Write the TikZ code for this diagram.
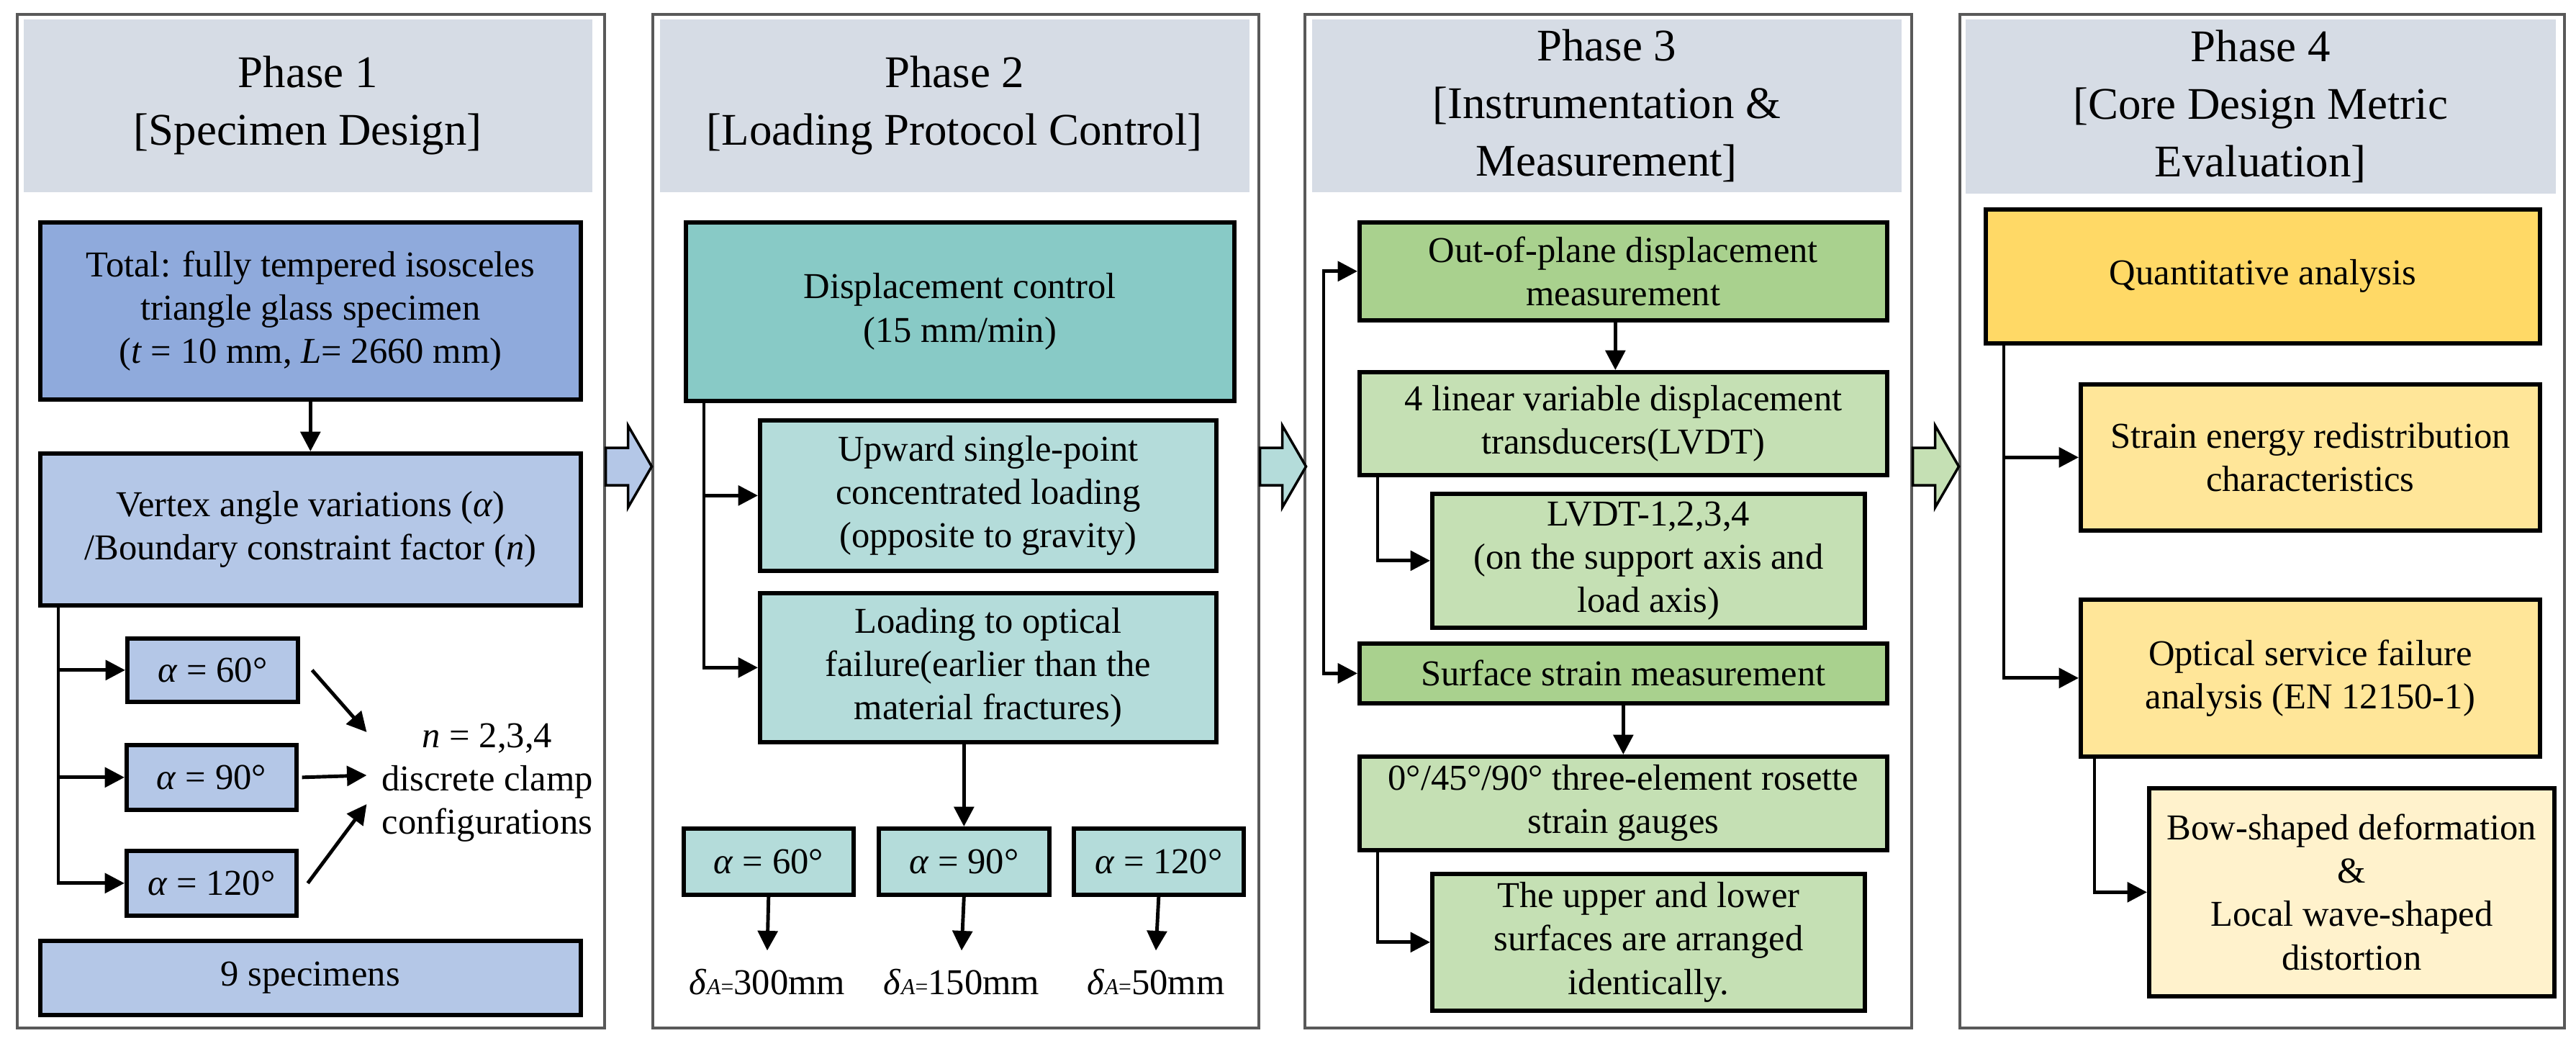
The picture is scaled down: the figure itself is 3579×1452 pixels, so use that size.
\documentclass[tikz,border=0pt]{standalone}
\usepackage{fontspec}
\setmainfont{Liberation Serif}
\usetikzlibrary{positioning,arrows.meta}
\definecolor{hdgray}{HTML}{D6DCE5}
\definecolor{blued}{HTML}{8FAADC}
\definecolor{bluel}{HTML}{B4C7E7}
\definecolor{teald}{HTML}{88CAC6}
\definecolor{teall}{HTML}{B4DCDA}
\definecolor{greend}{HTML}{A9D18E}
\definecolor{greenl}{HTML}{C5E0B4}
\definecolor{yeld}{HTML}{FFD966}
\definecolor{yelm}{HTML}{FFE699}
\definecolor{yell}{HTML}{FFF2CC}
\newcommand\bfnt{\fontsize{14.4}{17.1}\selectfont}
\newcommand\hfnt{\fontsize{17.9}{22.8}\selectfont}
\newcommand\dsub[1]{\textit{δ}{\fontsize{9}{9}\selectfont\textit{A}=}#1mm}
\tikzset{sz/.style 2 args={minimum width=#1, minimum height=#2}}

\begin{document}
\begin{tikzpicture}[
    x=0.1mm, y=-0.1mm,
    PH/.style={draw=black!65, line width=1pt, anchor=north west, inner sep=0pt},
    HD/.style={fill=hdgray, anchor=north west, align=center, font=\hfnt, inner sep=0pt},
    BX/.style={draw=black, line width=1.6pt, anchor=north west, align=center,
      font=\bfnt, inner sep=1pt},
    TX/.style={align=center, font=\bfnt},
    DT/.style={font=\bfnt, inner xsep=0pt, inner ysep=2.5mm},
    tip/.style={Triangle[length=7.8pt,width=7.8pt]},
    arr/.style={-{Triangle[length=7.8pt,width=7.8pt]}, line width=1.4pt},
    BA/.style={draw=black, line width=1pt}
  ]
    \useasboundingbox (0,0) rectangle (3579,1452);

    %% Phase frames
    \node[PH, sz={81.6mm}{140.8mm}] (p1) at (22,18) {};
    \node[PH, sz={84.2mm}{140.8mm}] (p2) at (905,18) {};
    \node[PH, sz={84.3mm}{140.8mm}] (p3) at (1811,18) {};
    \node[PH, sz={84.0mm}{140.8mm}] (p4) at (2721,18) {};

    %% Headers
    \node[HD, sz={79.0mm}{24.0mm}] (h1) at (32,26) {Phase 1\\{[}Specimen Design{]}};
    \node[HD, sz={81.9mm}{24.0mm}] (h2) at (916,26) {Phase 2\\{[}Loading Protocol Control{]}};
    \node[HD, sz={81.9mm}{24.0mm}] (h3) at (1822,26) {Phase 3\\{[}Instrumentation \&\\Measurement{]}};
    \node[HD, sz={82.0mm}{24.2mm}] (h4) at (2730,26) {Phase 4\\{[}Core Design Metric\\Evaluation{]}};

    %% Phase 1 (specimen design)
    \node[BX, fill=blued, sz={75.1mm}{24.6mm}] (tot) at (53,306)
      {Total: fully tempered isosceles\\triangle glass specimen\\(\textit{t} = 10 mm, \textit{L}= 2660 mm)};
    \node[BX, fill=bluel, sz={75.1mm}{21.1mm}] (vtx) at (53,627)
      {Vertex angle variations (\textit{α})\\/Boundary constraint factor (\textit{n})};
    \node[BX, fill=bluel, sz={23.7mm}{8.8mm}] (a60) at (174,884) {\textit{α} = 60°};
    \node[BX, fill=bluel, sz={23.6mm}{9.0mm}] (a90) at (173,1032) {\textit{α} = 90°};
    \node[BX, fill=bluel, sz={23.6mm}{9.0mm}] (a120) at (173,1179) {\textit{α} = 120°};
    \node[TX, inner xsep=2mm] (nc) at (677,1087) {\textit{n} = 2,3,4\\discrete clamp\\configurations};
    \node[BX, fill=bluel, sz={75.1mm}{10.3mm}] (sp9) at (53,1304) {9 specimens};

    \draw[arr] (tot.south) -- (vtx.north);
    \draw[arr] ([xshift=2.8mm]vtx.south west) |- (a60.west);
    \draw[arr] ([xshift=2.8mm]vtx.south west) |- (a90.west);
    \draw[arr] ([xshift=2.8mm]vtx.south west) |- (a120.west);
    \draw[arr] ([xshift=1.7mm]a60.east) -- ([yshift=7mm]nc.west);
    \draw[arr] ([xshift=0.5mm]a90.east) -- ([yshift=1mm]nc.west);
    \draw[arr] ([xshift=1.3mm]a120.east) -- ([yshift=-3mm]nc.west);

    %% Phase 2 (loading protocol)
    \node[BX, fill=teald, sz={76.2mm}{24.8mm}] (disp) at (950,306)
      {Displacement control\\(15 mm/min)};
    \node[BX, fill=teall, sz={63.4mm}{20.9mm}] (up) at (1053,581)
      {Upward single-point\\concentrated loading\\(opposite to gravity)};
    \node[BX, fill=teall, sz={63.4mm}{20.7mm}] (ld) at (1053,821)
      {Loading to optical\\failure(earlier than the\\material fractures)};
    \node[BX, fill=teall, sz={23.6mm}{9.2mm}] (b60) at (947,1148) {\textit{α} = 60°};
    \node[BX, fill=teall, sz={23.7mm}{9.2mm}] (b90) at (1218,1148) {\textit{α} = 90°};
    \node[BX, fill=teall, sz={23.6mm}{9.2mm}] (b120) at (1489,1148) {\textit{α} = 120°};
    \node[DT] (d60) at (1066,1364) {\dsub{300}};
    \node[DT] (d90) at (1336,1364) {\dsub{150}};
    \node[DT] (d120) at (1606,1364) {\dsub{50}};

    \draw[arr] ([xshift=2.8mm]disp.south west) |- (up.west);
    \draw[arr] ([xshift=2.8mm]disp.south west) |- (ld.west);
    \draw[arr] (ld.south -| b90.north) -- (b90.north);
    \draw[arr] (b60.south) -- (d60.north);
    \draw[arr] (b90.south) -- (d90.north);
    \draw[arr] (b120.south) -- (d120.north);

    %% Phase 3 (instrumentation)
    \node[BX, fill=greend, sz={73.3mm}{13.6mm}] (out) at (1886,306)
      {Out-of-plane displacement\\measurement};
    \node[BX, fill=greenl, sz={73.3mm}{14.3mm}] (lv4) at (1886,514)
      {4 linear variable displacement\\transducers(LVDT)};
    \node[BX, fill=greenl, sz={60.1mm}{18.6mm}] (lv1) at (1987,683)
      {LVDT-1,2,3,4\\(on the support axis and\\load axis)};
    \node[BX, fill=greend, sz={73.3mm}{8.3mm}] (surf) at (1886,891)
      {Surface strain measurement};
    \node[BX, fill=greenl, sz={73.3mm}{13.0mm}] (ros) at (1886,1048)
      {0°/45°/90° three-element rosette\\strain gauges};
    \node[BX, fill=greenl, sz={60.1mm}{19.0mm}] (upp) at (1987,1211)
      {The upper and lower\\surfaces are arranged\\identically.};

    \draw[{Triangle[length=7.8pt,width=7.8pt]}-{Triangle[length=7.8pt,width=7.8pt]}, line width=1.4pt]
      (out.west) -- ++(-47,0) |- (surf.west);
    \draw[arr] ([xshift=-1.1mm]out.south) -- ([xshift=-1.1mm]lv4.north);
    \draw[arr] ([xshift=2.8mm]lv4.south west) |- (lv1.west);
    \draw[arr] (surf.south) -- (ros.north);
    \draw[arr] ([xshift=2.8mm]ros.south west) |- (upp.west);

    %% Phase 4 (evaluation)
    \node[BX, fill=yeld, sz={77.0mm}{18.6mm}] (qa) at (2756,288) {Quantitative analysis};
    \node[BX, fill=yelm, sz={63.8mm}{20.3mm}] (se) at (2888,531)
      {Strain energy redistribution\\characteristics};
    \node[BX, fill=yelm, sz={63.8mm}{21.8mm}] (op) at (2888,830)
      {Optical service failure\\analysis (EN 12150-1)};
    \node[BX, fill=yell, sz={56.3mm}{28.9mm}] (bow) at (2983,1092)
      {Bow-shaped deformation\\\&\\Local wave-shaped\\distortion};

    \draw[arr] ([xshift=2.8mm]qa.south west) |- (se.west);
    \draw[arr] ([xshift=2.8mm]qa.south west) |- (op.west);
    \draw[arr] ([xshift=2.2mm]op.south west) |- (bow.west);

    %% Block arrows between phases
    \foreach \p/\c in {p1/bluel, p2/teall, p3/greenl}
      \draw[BA, fill=\c] (\p.east |- 0,648) ++(0,-26) -- ++(31,0) -- ++(0,-31)
        -- ++(33,57) -- ++(-33,57) -- ++(0,-31) -- ++(-31,0) -- cycle;
\end{tikzpicture}
\end{document}
